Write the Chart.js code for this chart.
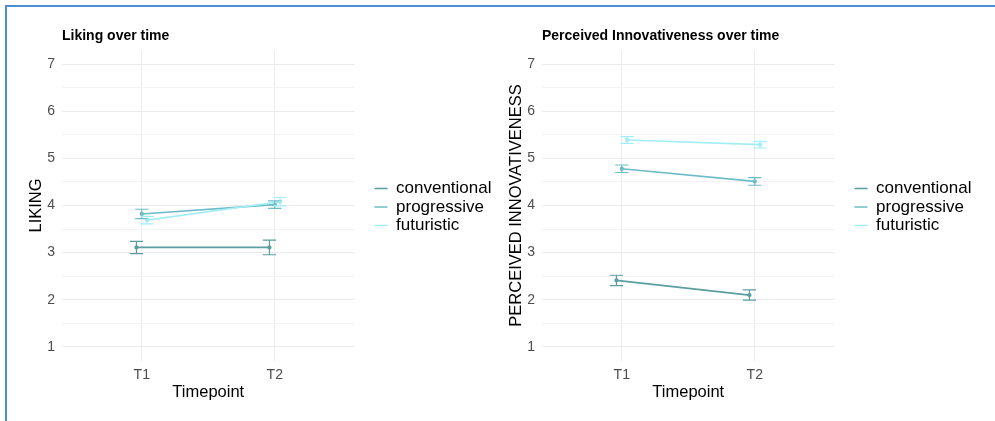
<!DOCTYPE html>
<html>
<head>
<meta charset="utf-8">
<script src="https://cdn.jsdelivr.net/npm/chart.js@4"></script>
<style>
  body { margin: 0; background: #fff; }
  #frame {
    position: absolute; left: 5px; top: 5px; width: 990px; height: 416px;
    border-top: 2px solid #4a8fd1; border-left: 2px solid #4a8fd1;
  }
  canvas { position: absolute; top: 0; }
  #likingChart { left: 0; }
  #innovChart { left: 497px; }
</style>
</head>
<body>
<div id="frame"></div>
<canvas id="likingChart" width="497" height="421"></canvas>
<canvas id="innovChart" width="498" height="421"></canvas>
<script>
// categories
const timepoints = ["T1", "T2"];
const groups = ["conventional", "progressive", "futuristic"];
const groupColors = ["#5b9ea0", "#6cbcc8", "#a2eef6"];
const yTicks = [1, 2, 3, 4, 5, 6, 7];

// Liking: means and error bar half widths (T1, T2)
const likingConventional = [3.11, 3.11];
const likingProgressive = [3.82, 4.02];
const likingFuturistic = [3.69, 4.08];
const likingConventionalErr = [0.13, 0.155];
const likingProgressiveErr = [0.1, 0.08];
const likingFuturisticErr = [0.08, 0.09];

// Perceived innovativeness
const innovConventional = [2.41, 2.10];
const innovProgressive = [4.78, 4.51];
const innovFuturistic = [5.39, 5.29];
const innovConventionalErr = [0.11, 0.11];
const innovProgressiveErr = [0.08, 0.08];
const innovFuturisticErr = [0.07, 0.07];

const dodge = [-0.04, 0, 0.04];
const capHalf = 0.05;

// error bars drawn with the chart scales
const errorBars = {
  id: "errorBars",
  afterDatasetsDraw(chart) {
    const ctx = chart.ctx;
    const xs = chart.scales.x;
    const ys = chart.scales.y;
    chart.data.datasets.forEach((ds) => {
      ctx.save();
      ctx.strokeStyle = ds.borderColor;
      ctx.lineWidth = 1.2;
      ds.data.forEach((p) => {
        const x = xs.getPixelForValue(p.x);
        const x0 = xs.getPixelForValue(p.x - capHalf);
        const x1 = xs.getPixelForValue(p.x + capHalf);
        const yHi = ys.getPixelForValue(p.y + p.err);
        const yLo = ys.getPixelForValue(p.y - p.err);
        ctx.beginPath();
        ctx.moveTo(x, yHi); ctx.lineTo(x, yLo);
        ctx.moveTo(x0, yHi); ctx.lineTo(x1, yHi);
        ctx.moveTo(x0, yLo); ctx.lineTo(x1, yLo);
        ctx.stroke();
      });
      ctx.restore();
    });
  },
};

// panel title aligned with the plot area, and legend nudged into place
const panelTitle = {
  id: "panelTitle",
  afterLayout(chart) {
    const shift = chart.options.legendShift || 0;
    chart.legend.left += shift;
    chart.legend.right += shift;
    chart.legend.top -= 19;
    chart.legend.bottom -= 19;
  },
  afterDraw(chart) {
    const ctx = chart.ctx;
    ctx.save();
    ctx.font = "bold 14px 'Liberation Sans', Arial, sans-serif";
    ctx.fillStyle = "#000";
    ctx.textBaseline = "middle";
    ctx.fillText(chart.options.panelTitle, chart.chartArea.left, 36);
    ctx.restore();
  },
};

function buildDatasets(series, errs) {
  return groups.map((g, gi) => ({
    label: g,
    data: series[gi].map((v, ti) => ({ x: ti + 1 + dodge[gi], y: v, err: errs[gi][ti] })),
    borderColor: groupColors[gi],
    backgroundColor: groupColors[gi],
    borderWidth: 1.7,
    pointRadius: 1.3,
    pointHoverRadius: 1.3,
    order: 3 - gi,
  }));
}

function makeChart(id, title, yLabel, series, errs, padLeft, padRight, shift) {
  const font = "'Liberation Sans', Arial, sans-serif";
  const minorTicks = [];
  yTicks.forEach((t, i) => {
    minorTicks.push(t);
    if (i < yTicks.length - 1) minorTicks.push((t + yTicks[i + 1]) / 2);
  });
  return new Chart(document.getElementById(id), {
    type: "line",
    data: { datasets: buildDatasets(series, errs) },
    options: {
      responsive: false,
      animation: false,
      panelTitle: title,
      legendShift: shift,
      layout: { padding: { left: padLeft, right: padRight, top: 50, bottom: 19 } },
      scales: {
        x: {
          type: "linear",
          min: 0.4,
          max: 2.6,
          afterBuildTicks: (s) => { s.ticks = timepoints.map((t, i) => ({ value: i + 1 })); },
          afterFit: (s) => { s.height = 41; },
          ticks: {
            callback: (v) => timepoints[v - 1],
            color: "#4d4d4d",
            font: { family: font, size: 14 },
            padding: 6,
            maxRotation: 0,
          },
          grid: { color: "#ebebeb", drawTicks: false },
          border: { display: false },
          title: {
            display: true,
            text: "Timepoint",
            color: "#000",
            font: { family: font, size: 16.5 },
            padding: 0,
          },
        },
        y: {
          type: "linear",
          min: 0.7,
          max: 7.3,
          afterBuildTicks: (s) => { s.ticks = minorTicks.map((v) => ({ value: v })); },
          afterFit: (s) => { s.width = 35; },
          ticks: {
            callback: (v) => (Number.isInteger(v) ? String(v) : ""),
            color: "#4d4d4d",
            font: { family: font, size: 14 },
            padding: 7,
          },
          grid: {
            color: (c) => (c.tick && Number.isInteger(c.tick.value) ? "#ebebeb" : "#f3f3f3"),
            drawTicks: false,
          },
          border: { display: false },
          title: {
            display: true,
            text: yLabel,
            color: "#000",
            font: { family: font, size: 16.5 },
            padding: 0,
          },
        },
      },
      plugins: {
        legend: {
          position: "right",
          maxWidth: 200,
          labels: {
            usePointStyle: true,
            pointStyle: "line",
            pointStyleWidth: 13,
            boxHeight: 2,
            padding: 1.5,
            color: "#000",
            font: { family: font, size: 17 },
            sort: (a, b) => a.datasetIndex - b.datasetIndex,
          },
        },
        tooltip: { enabled: false },
      },
    },
    plugins: [errorBars, panelTitle],
  });
}

makeChart(
  "likingChart", "Liking over time", "LIKING",
  [likingConventional, likingProgressive, likingFuturistic],
  [likingConventionalErr, likingProgressiveErr, likingFuturisticErr],
  27, 14, 18.5
);
makeChart(
  "innovChart", "Perceived Innovativeness over time", "PERCEIVED INNOVATIVENESS",
  [innovConventional, innovProgressive, innovFuturistic],
  [innovConventionalErr, innovProgressiveErr, innovFuturisticErr],
  10, 32, 18.5
);
</script>
</body>
</html>
